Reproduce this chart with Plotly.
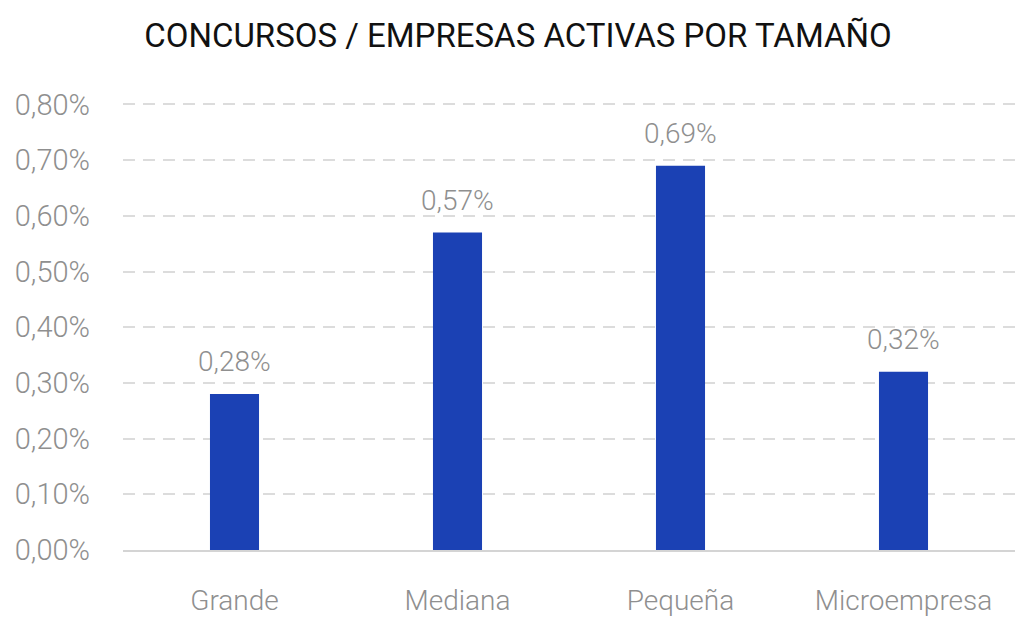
import plotly.graph_objects as go

categories = ["Grande", "Mediana", "Pequeña", "Microempresa"]
values = [0.28, 0.57, 0.69, 0.32]
y_ticks = [0, 0.1, 0.2, 0.3, 0.4, 0.5, 0.6, 0.7, 0.8]
y_ticklabels = ["0,00%", "0,10%", "0,20%", "0,30%", "0,40%", "0,50%", "0,60%", "0,70%", "0,80%"]
title_text = "CONCURSOS / EMPRESAS ACTIVAS POR TAMAÑO"

BAR = "#1b41b4"
GRAY = "#8f8f8f"
FONT = "Roboto"

fig = go.Figure(go.Bar(
    x=categories, y=values,
    marker=dict(color=BAR, line=dict(width=0)),
    cliponaxis=False,
))

for c, v in zip(categories, values):
    fig.add_annotation(
        x=c, y=v, text=f"{v:.2f}%".replace(".", ","),
        showarrow=False, yanchor="bottom", yshift=14,
        font=dict(family=FONT, size=28, color=GRAY, weight=300),
    )

fig.update_layout(
    width=1024, height=626,
    margin=dict(l=123, r=9, t=103, b=76, autoexpand=False),
    paper_bgcolor="white", plot_bgcolor="white",
    separators=",.",
    bargap=0.78,
    showlegend=False,
    title=dict(text=title_text, x=518 / 1024, xanchor="center", xref="container",
               y=1 - 35 / 626, yanchor="middle", yref="container",
               font=dict(family=FONT, size=33, color="#111111", weight=400)),
    xaxis=dict(showgrid=False, showline=True, linecolor="#d4d4d4", linewidth=2,
               ticks="", ticklabelstandoff=24, automargin=False,
               tickfont=dict(family=FONT, size=28, color=GRAY, weight=300)),
    yaxis=dict(range=[0, 0.8025], tickvals=y_ticks, ticktext=y_ticklabels,
               showgrid=True, gridcolor="#dcdcdc", gridwidth=2, griddash="12px,8px",
               zeroline=False, showline=False, ticks="", ticklabelstandoff=32,
               automargin=False,
               tickfont=dict(family=FONT, size=29, color=GRAY, weight=300)),
)

fig.write_html("out.html")
